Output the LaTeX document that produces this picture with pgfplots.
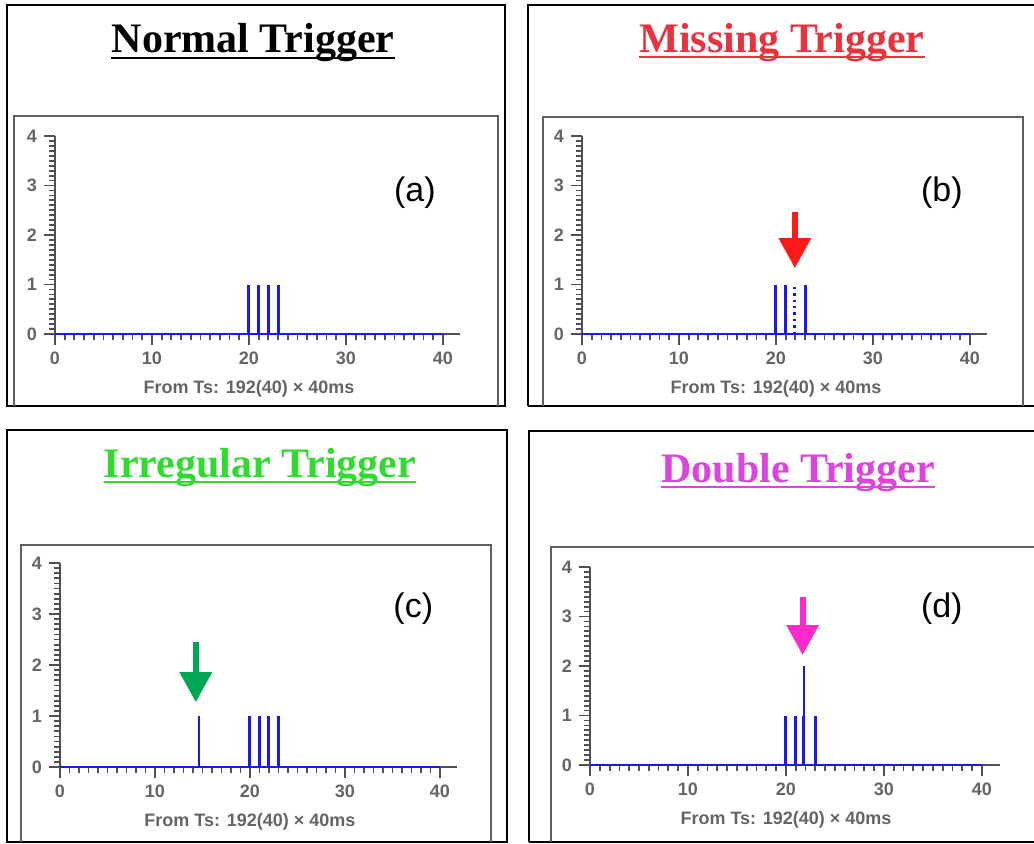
\documentclass[border=0pt]{standalone}
\usepackage{fontspec}
\setmainfont{Liberation Sans}
\newfontfamily\titlefont{Liberation Serif}
\usepackage{pgfplots}
\pgfplotsset{compat=1.18}
\usetikzlibrary{arrows.meta}
\definecolor{spikeblue}{HTML}{1A1AF0}
\definecolor{axgray}{HTML}{505050}
\definecolor{labgray}{HTML}{656565}
\definecolor{boxgray}{HTML}{606060}
\definecolor{missred}{HTML}{E8333F}
\definecolor{irrgreen}{HTML}{2EDB2E}
\definecolor{dblpink}{HTML}{DD44DD}
\definecolor{arrred}{HTML}{FF1A1A}
\definecolor{arrgreen}{HTML}{00A651}
\definecolor{arrpink}{HTML}{FF2ACB}

\pgfplotsset{
  trig/.style={
    scale only axis, anchor=south west,
    xmin=0, xmax=41.8, ymin=0, ymax=4,
    axis lines=left,
    axis line style={-, draw=axgray, line width=1pt},
    xtick={0,10,20,30,40}, ytick={0,1,2,3,4},
    minor x tick num=9, minor y tick num=9,
    tick align=outside,
    major tick length=5.5pt, minor tick length=3pt,
    tick style={axgray, line width=0.9pt},
    tick label style={font=\bfseries\fontsize{9}{10}\selectfont, text=labgray},
    /pgf/number format/assume math mode=true,
    clip=false,
  },
}
\tikzset{
  lab/.style={font=\fontsize{17}{17}\selectfont},
  xl/.style={font=\bfseries\fontsize{9}{10}\selectfont, text=labgray, yshift=-27.5pt},
}
\newcommand\ttl[4]{% x, y (baseline), colour, text
  \node[anchor=base, inner sep=0pt, text=#3, font=\titlefont\bfseries\fontsize{21}{21}\selectfont] (t) at (#1,#2) {#4};
  \draw[#3, line width=1pt] ([yshift=-2.5pt]t.base west) -- ([yshift=-2.5pt]t.base east);
}

\begin{document}
\begin{tikzpicture}
\useasboundingbox (0,0) rectangle (517pt,421.5pt);
\fill[white] (0,0) rectangle (517pt,421.5pt);

% frames
\draw[black, line width=1.2pt] (3.5pt,218.5pt) rectangle (252.5pt,419pt);
\draw[black, line width=1.2pt] (264pt,218.5pt) -- (264pt,419pt) -- (517pt,419pt);
\draw[black, line width=1.2pt] (264pt,218.5pt) -- (517pt,218.5pt);
\draw[black, line width=1.2pt] (3.5pt,0.5pt) rectangle (253.5pt,206.5pt);
\draw[black, line width=1.2pt] (264.5pt,0.5pt) -- (264.5pt,206pt) -- (517pt,206pt);
\draw[black, line width=1.2pt] (264.5pt,0.5pt) -- (517pt,0.5pt);
\draw[boxgray, line width=1pt] (7pt,218.5pt) -- (7pt,363.5pt) -- (249pt,363.5pt) -- (249pt,218.5pt);
\draw[boxgray, line width=1pt] (271.5pt,218.5pt) -- (271.5pt,363pt) -- (511.5pt,363pt) -- (511.5pt,218.5pt);
\draw[boxgray, line width=1pt] (10.5pt,0.5pt) -- (10.5pt,149pt) -- (245.5pt,149pt) -- (245.5pt,0.5pt);
\draw[boxgray, line width=1pt] (275.5pt,0.5pt) -- (275.5pt,148pt) -- (517pt,148pt);

% titles
\ttl{126.5pt}{395pt}{black}{Normal Trigger}
\ttl{391pt}{395.5pt}{missred}{Missing Trigger}
\ttl{130pt}{183pt}{irrgreen}{Irregular Trigger}
\ttl{399pt}{180.5pt}{dblpink}{Double Trigger}

% (a) normal
\begin{axis}[trig, at={(27.5pt,254.5pt)}, width=202.7pt, height=99pt]
\addplot[spikeblue, line width=1pt] coordinates {(0,0) (40,0)};
\addplot[ycomb, spikeblue, line width=1.5pt] coordinates {(20,1) (21,1) (22,1) (23,1)};
\node[lab] at (axis cs:37.1,2.85) {(a)};
\node[xl] at (axis cs:20,0) {From Ts: 192(40) × 40ms};
\end{axis}

% (b) missing
\begin{axis}[trig, at={(291pt,254.5pt)}, width=202.7pt, height=99pt]
\addplot[spikeblue, line width=1pt] coordinates {(0,0) (40,0)};
\addplot[ycomb, spikeblue, line width=1.5pt] coordinates {(20,1) (21,1) (23,1)};
\addplot[ycomb, spikeblue, line width=1.2pt, dash pattern=on 1.2pt off 2pt] coordinates {(21.9,1)};
\draw[arrred, line width=3pt, -{Triangle[width=15.5pt, length=15pt]}] (axis cs:21.95,2.46) -- (axis cs:21.95,1.33);
\node[lab] at (axis cs:37.1,2.85) {(b)};
\node[xl] at (axis cs:20,0) {From Ts: 192(40) × 40ms};
\end{axis}

% (c) irregular
\begin{axis}[trig, at={(30pt,38pt)}, width=198.5pt, height=102pt]
\addplot[spikeblue, line width=1pt] coordinates {(0,0) (40,0)};
\addplot[ycomb, spikeblue, line width=1.5pt] coordinates {(20,1) (21,1) (22,1) (23,1)};
\addplot[ycomb, spikeblue, line width=0.9pt] coordinates {(14.6,1)};
\draw[arrgreen, line width=3pt, -{Triangle[width=15.5pt, length=15pt]}] (axis cs:14.3,2.45) -- (axis cs:14.3,1.27);
\node[lab] at (axis cs:37.2,3.1) {(c)};
\node[xl] at (axis cs:20,0) {From Ts: 192(40) × 40ms};
\end{axis}

% (d) double
\begin{axis}[trig, at={(295pt,39pt)}, width=204.8pt, height=99pt]
\addplot[spikeblue, line width=1pt] coordinates {(0,0) (40,0)};
\addplot[ycomb, spikeblue, line width=1.5pt] coordinates {(20,1) (21,1) (21.8,1) (23,1)};
\addplot[ycomb, spikeblue, line width=0.9pt] coordinates {(21.8,2)};
\draw[arrpink, line width=3pt, -{Triangle[width=15.5pt, length=15pt]}] (axis cs:21.7,3.39) -- (axis cs:21.7,2.22);
\node[lab] at (axis cs:35.9,3.15) {(d)};
\node[xl] at (axis cs:20,0) {From Ts: 192(40) × 40ms};
\end{axis}
\end{tikzpicture}
\end{document}
